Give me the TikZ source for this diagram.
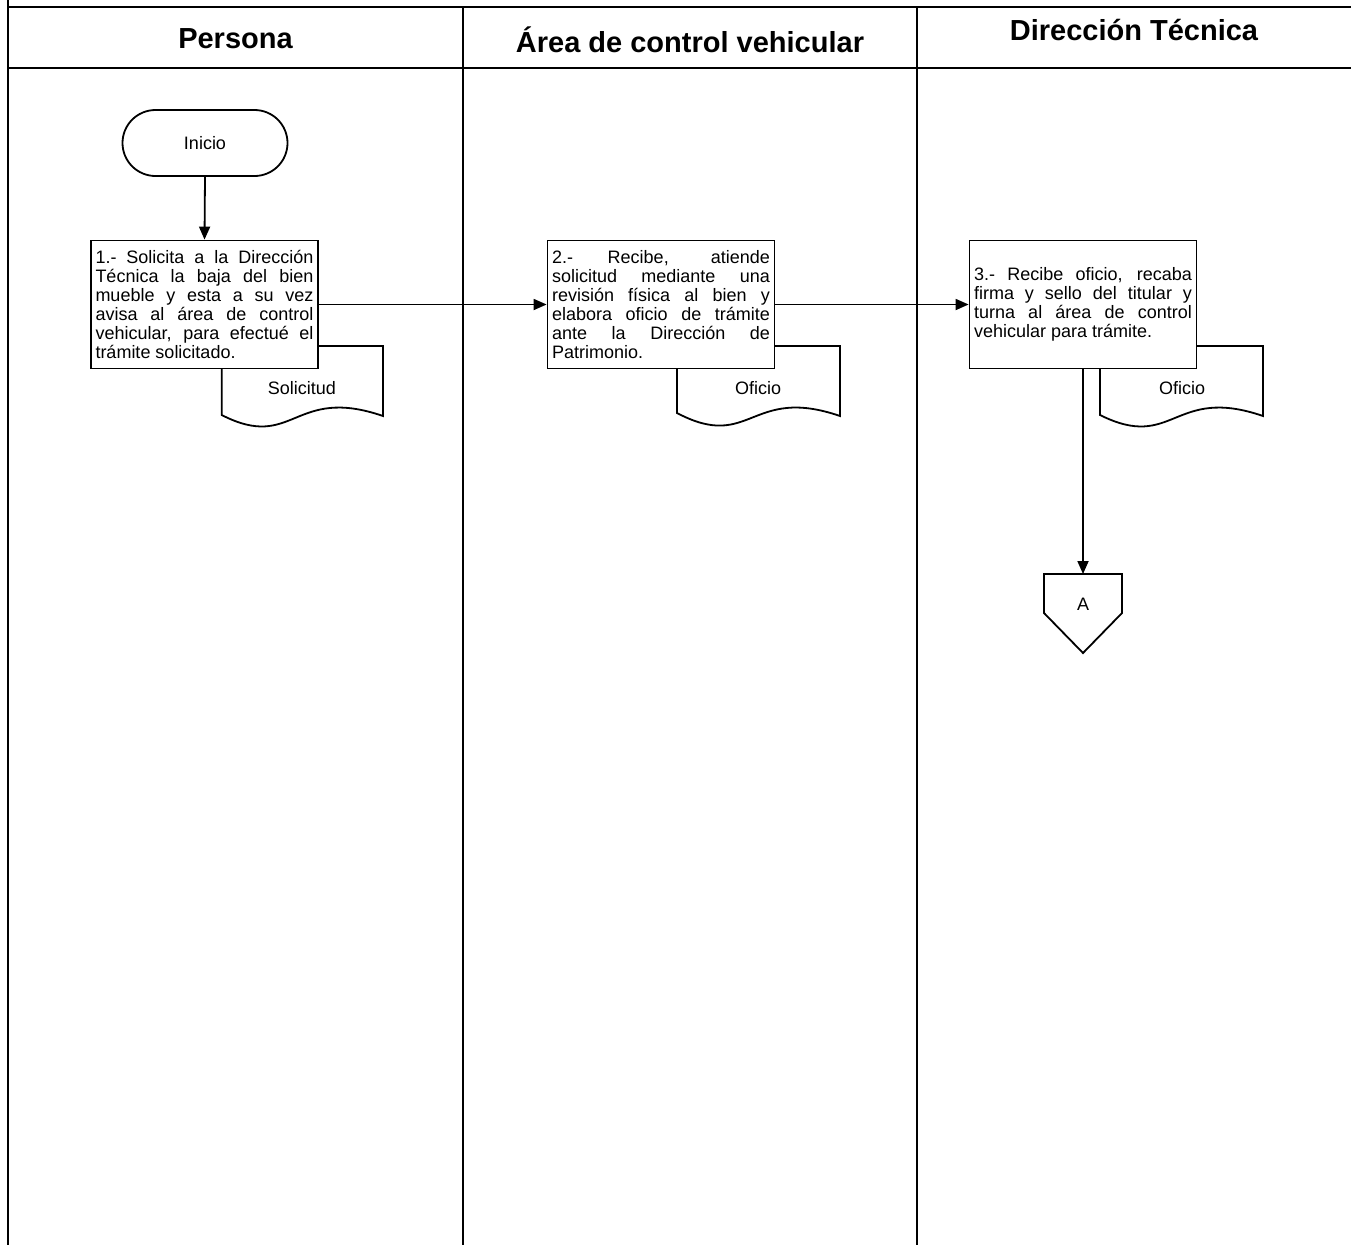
\documentclass[tikz,border=0pt]{standalone}
\usepackage{fontspec}
\setmainfont{Liberation Sans}
\usetikzlibrary{arrows.meta}
\newlength\bw
\setlength\bw{218pt}
\newcommand\jl[1]{\makebox[\bw][s]{#1}}
\newcommand\lastl[1]{\makebox[\bw][l]{#1}}
\begin{document}
\begin{tikzpicture}[x=1pt,y=-1pt,
  lane/.style={line width=2.4pt},
  hdr/.style={font=\fontsize{29}{32}\selectfont\bfseries, inner sep=0pt},
  proc/.style={draw, line width=1.8pt, fill=white, minimum width=227pt, minimum height=128pt, inner sep=0pt, align=left, font=\fontsize{18}{19}\selectfont},
  term/.style={draw, line width=1.8pt, rounded corners=33pt, minimum width=165pt, minimum height=66pt, inner sep=0pt, font=\fontsize{18}{19}\selectfont},
  docshape/.style={draw, line width=1.8pt, fill=white},
  doclabel/.style={inner sep=0pt, font=\fontsize{18}{19}\selectfont},
  conn/.style={line width=1.8pt, -{Triangle[length=13pt,width=11pt]}},
  offpage/.style={draw, line width=1.8pt, fill=white}
]
\useasboundingbox (0,0) rectangle (1351,1245);
% swimlane frame
\draw[lane] (8,0) -- (8,1245);
\draw[lane] (8,7) -- (1351,7);
\draw[lane] (8,68) -- (1351,68);
\draw[lane] (463,7) -- (463,1245);
\draw[lane] (917,7) -- (917,1245);
\node[hdr] (h1) at (235.5,39) {Persona};
\node[hdr] (h2) at (690,40) {Área de control vehicular};
\node[hdr] (h3) at (1134,30) {Dirección Técnica};
% documents (behind the boxes)
\draw[docshape] (221.7,415) -- (221.7,346) -- (383,346) -- (383,416)
  .. controls (293,385) and (294,452) .. cycle;
\node[doclabel] (d1) at (302,388) {Solicitud};
\draw[docshape] (677,413) -- (677,346) -- (840,346) -- (840,416)
  .. controls (750,385) and (751,452) .. cycle;
\node[doclabel] (d2) at (758,388) {Oficio};
\draw[docshape] (1100,415) -- (1100,346) -- (1263,346) -- (1263,416)
  .. controls (1173,385) and (1174,452) .. cycle;
\node[doclabel] (d3) at (1182,388) {Oficio};
% start
\node[term] (inicio) at (205,143) {Inicio};
% process boxes
\node[proc] (b1) at (204.5,304.5) {\jl{1.- Solicita a la Dirección}\\\jl{Técnica la baja del bien}\\\jl{mueble y esta a su vez}\\\jl{avisa al área de control}\\\jl{vehicular, para efectué el}\\\lastl{trámite solicitado.}};
\node[proc] (b2) at (661,304.5) {\jl{2.- Recibe, atiende}\\\jl{solicitud mediante una}\\\jl{revisión física al bien y}\\\jl{elabora oficio de trámite}\\\jl{ante la Dirección de}\\\lastl{Patrimonio.}};
\node[proc] (b3) at (1083,304.5) {\jl{3.- Recibe oficio, recaba}\\\jl{firma y sello del titular y}\\\jl{turna al área de control}\\\lastl{vehicular para trámite.}};
% off-page connector
\coordinate (aT) at (1083,574);
\draw[offpage] (1044,574) -- (1122,574) -- (1122,613) -- (1083,653) -- (1044,613) -- cycle;
\node[doclabel] (a) at (1083,604) {A};
% connectors
\draw[conn] (inicio.south) -- (b1.north);
\draw[conn] (b1.east) -- (b2.west);
\draw[conn] (b2.east) -- (b3.west);
\draw[conn] (b3.south) -- (aT);
\end{tikzpicture}
\end{document}
